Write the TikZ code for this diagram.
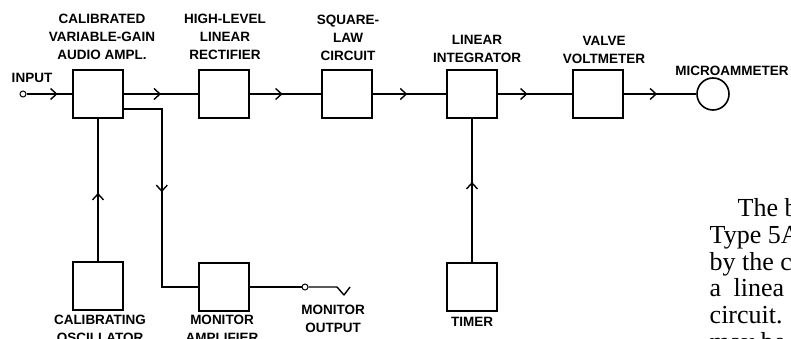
\documentclass[tikz,border=0pt]{standalone}
\usepackage{fontspec}
\newfontfamily\lettering{Liberation Sans}
\newfontfamily\bodyfont{Liberation Serif}
\usetikzlibrary{arrows.meta,decorations.markings}
\tikzset{
	flow/.style={postaction={decorate},decoration={markings,mark=at position #1 with {\arrow{Straight Barb[length=6pt,width=11pt,line width=1.4pt]}}}},
	flow/.default=0.5,
	lbl/.style={align=center,inner sep=0pt,font=\lettering\bfseries\fontsize{13.5}{18}\selectfont},
}

\begin{document}
\begin{tikzpicture}[x=1pt,y=-1pt,line width=1.4pt]
	\useasboundingbox (0,0) rectangle (791,339);
	\begin{scope}[every node/.style={draw,line width=1.6pt,minimum width=50pt,minimum height=48pt,inner sep=0pt}]
	\node (amp) at (98,94) {};
	\node (rec) at (224,94) {};
	\node (sq) at (347,94) {};
	\node (int) at (472,94) {};
	\node (vv) at (598,94) {};
	\node (osc) at (98,286) {};
	\node (mon) at (224,287) {};
	\node (tim) at (472,287) {};
	\end{scope}
	\node [draw,circle,line width=1.6pt,minimum size=32pt,inner sep=0pt] (meter) at (713,94) {};
	\node [draw,circle,line width=1pt,minimum size=6pt,inner sep=0pt] (in) at (23,94) {};
	\node [draw,circle,line width=1pt,minimum size=6pt,inner sep=0pt] (jack) at (305,287) {};
	\node [lbl] (ampL) at (102,36.5) {CALIBRATED\\VARIABLE-GAIN\\AUDIO AMPL.};
	\node [lbl] (recL) at (225,36.5) {HIGH-LEVEL\\LINEAR\\RECTIFIER};
	\node [lbl] (sqL) at (348,37.5) {SQUARE-\\LAW\\CIRCUIT};
	\node [lbl] (intL) at (477,48.5) {LINEAR\\INTEGRATOR};
	\node [lbl] (vvL) at (604,50) {VALVE\\VOLTMETER};
	\node [lbl] (meterL) at (732,71) {MICROAMMETER};
	\node [lbl] (inL) at (32,78) {INPUT};
	\node [lbl] (oscL) at (100,329) {CALIBRATING\\OSCILLATOR};
	\node [lbl] (monL) at (222,329) {MONITOR\\AMPLIFIER};
	\node [lbl] (jackL) at (333,318.5) {MONITOR\\OUTPUT};
	\node [lbl] (timL) at (472,322) {TIMER};
	\begin{scope}[every node/.style={anchor=base west,inner sep=0pt,font=\bodyfont\fontsize{26}{27}\selectfont}]
	\node (t1) at (737,216.7) {The b};
	\node (t2) at (709,243.3) {Type 5A};
	\node (t3) at (709,270) {by the c};
	\node (t4) at (709,296.7) {a\hspace{6pt} linea};
	\node (t5) at (709,323.3) {circuit.};
	\node (t6) at (709,350) {may be};
	\end{scope}
	\draw [flow=0.68] (in) -- (amp);
	\draw [flow] (amp) -- (rec);
	\draw [flow=0.46] (rec) -- (sq);
	\draw [flow=0.47] (sq) -- (int);
	\draw [flow=0.4] (int) -- (vv);
	\draw [flow=0.46] (vv) -- (meter);
	\draw [flow=0.48] (osc) -- (amp);
	\draw [flow=0.56] (tim) -- (int);
	\draw [flow=0.48] ([yshift=-15pt]amp.east) -- ++(38,0) |- (mon.west);
	\draw (mon) -- (jack);
	\draw [line join=round] (jack) -- ++(32,0) -- ++(7,8) -- ++(6,-8);
\end{tikzpicture}
\end{document}
